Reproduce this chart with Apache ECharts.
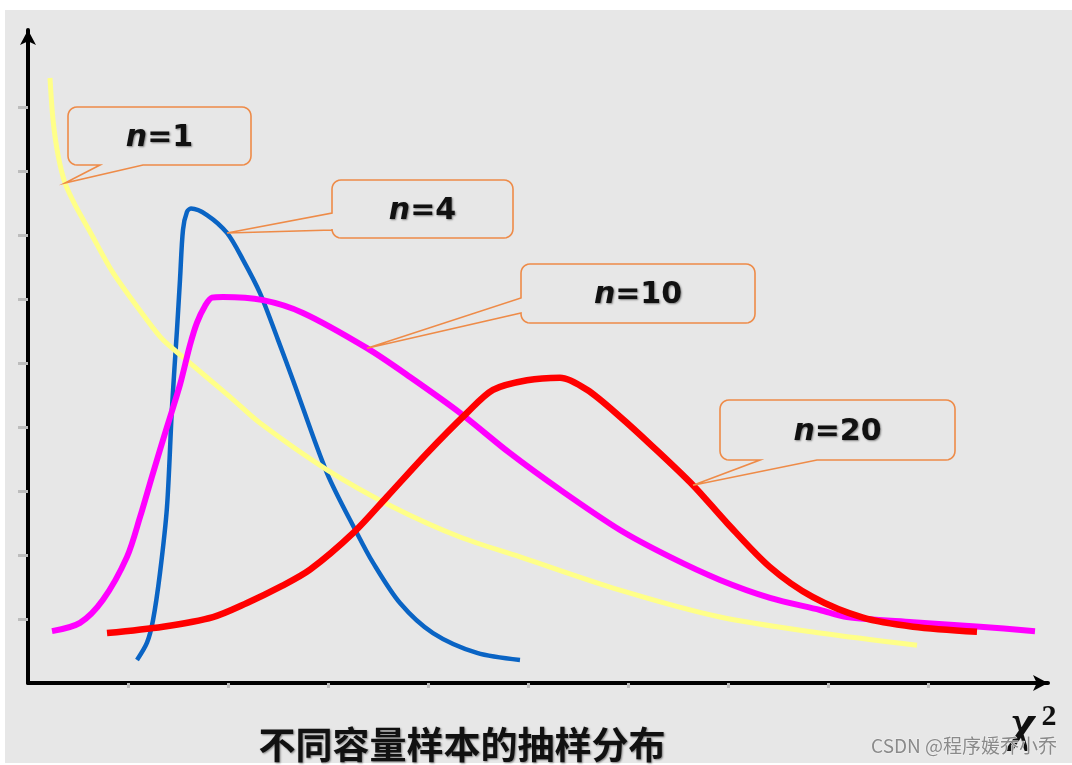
<!DOCTYPE html>
<html><head><meta charset="utf-8">
<script src="https://cdn.jsdelivr.net/npm/echarts@6/dist/echarts.min.js"></script>
<style>html,body{margin:0;padding:0;background:#fff}#c{width:1072px;height:765px}</style>
</head><body><div id="c"></div>
<script>
// ---- data (x in χ² units, y in density units) ----
const seriesNames = ['n=1', 'n=4', 'n=10', 'n=20'];
const n1 = [[0.22,9.45],[0.25,8.80],[0.30,8.25],[0.37,7.81],[0.48,7.44],[0.62,7.05],[0.85,6.41],[1.19,5.67],[1.35,5.36],[1.55,5.09],[2.02,4.47],[2.32,4.06],[2.99,3.33],[3.65,2.75],[4.32,2.28],[4.92,1.97],[5.92,1.45],[6.92,1.03],[7.92,0.78],[8.89,0.59]];
const n4 = [[1.09,0.36],[1.19,0.63],[1.25,0.98],[1.32,1.72],[1.39,2.75],[1.44,4.31],[1.49,5.52],[1.52,6.30],[1.55,7.08],[1.59,7.36],[1.63,7.41],[1.79,7.31],[1.99,7.03],[2.15,6.61],[2.32,6.09],[2.50,5.36],[2.65,4.73],[2.99,3.28],[3.29,2.34],[3.45,1.88],[3.72,1.25],[4.05,0.78],[4.49,0.47],[4.92,0.36]];
const n10 = [[0.24,0.81],[0.52,0.94],[0.75,1.30],[0.99,1.97],[1.12,2.59],[1.25,3.28],[1.39,4.00],[1.52,4.66],[1.62,5.28],[1.69,5.63],[1.77,5.89],[1.84,6.02],[1.95,6.03],[2.35,5.98],[2.75,5.78],[3.39,5.23],[3.82,4.78],[4.32,4.22],[4.82,3.59],[5.32,3.02],[5.92,2.39],[6.42,1.97],[6.92,1.61],[7.42,1.33],[7.92,1.14],[8.19,1.03],[8.85,0.95],[9.52,0.88],[10.07,0.81]];
const n20 = [[0.79,0.78],[1.35,0.88],[1.85,1.03],[2.19,1.25],[2.52,1.50],[2.82,1.77],[3.25,2.34],[3.59,2.91],[3.99,3.59],[4.39,4.22],[4.65,4.58],[4.99,4.73],[5.32,4.77],[5.59,4.58],[5.92,4.16],[6.25,3.69],[6.65,3.09],[6.99,2.50],[7.42,1.81],[7.85,1.34],[8.35,1.02],[8.85,0.88],[9.49,0.80]];
const xTicks = [1,2,3,4,5,6,7,8,9];
const yTicks = [1,2,3,4,5,6,7,8,9];
const titleText = '不同容量样本的抽样分布';
const watermarkText = 'CSDN @程序媛乔小乔';

// ---- chart ----
const chart = echarts.init(document.getElementById('c'), null, {renderer: 'canvas'});
const axisCommon = {
  type: 'value', min: 0, max: 10.2, interval: 1,
  axisLine: {show: true, lineStyle: {color: '#000', width: 4}, symbol: ['none', 'arrow'], symbolSize: [12, 15]},
  axisLabel: {show: false},
  splitLine: {show: false}
};
const mkLine = (name, data, color, width, z) => ({
  name, type: 'line', data, showSymbol: false, smooth: 0.3, z,
  lineStyle: {color, width, cap: 'butt', join: 'round'}, itemStyle: {color}
});
chart.setOption({
  backgroundColor: '#ffffff',
  animation: false,
  grid: {left: 28, right: 24, top: 30, bottom: 82},
  xAxis: Object.assign({}, axisCommon, {
    axisTick: {show: true, customValues: xTicks, length: 5, lineStyle: {color: '#bdbdbd', width: 3}}
  }),
  yAxis: Object.assign({}, axisCommon, {
    axisTick: {show: true, customValues: yTicks, length: 10, lineStyle: {color: '#bdbdbd', width: 3}}
  }),
  series: [
    mkLine(seriesNames[1], n4, '#0a64c4', 4.5, 2),
    mkLine(seriesNames[0], n1, '#ffff88', 5, 3),
    mkLine(seriesNames[2], n10, '#ff00ff', 6, 4),
    mkLine(seriesNames[3], n20, '#ff0000', 6.5, 5)
  ]
});

// ---- callouts (boxes in pixels, tips anchored on data points) ----
const callouts = [
  {text: '1', data: n1, idx: 3, box: [68, 107, 251, 165], side: 'bottom', a: 143, b: 100},
  {text: '4', data: n4, idx: 12, box: [332, 180, 513, 238], side: 'left', a: 230, b: 213},
  {text: '10', data: n10, idx: 15, box: [521, 264, 755, 323], side: 'left', a: 313, b: 298},
  {text: '20', data: n20, idx: 16, box: [720, 400, 955, 460], side: 'bottom', a: 817, b: 760}
];
function arc(pts, cx, cy, r, a0, a1) {
  const n = 6;
  for (let i = 0; i <= n; i++) {
    const t = a0 + (a1 - a0) * i / n;
    pts.push([cx + r * Math.cos(t), cy + r * Math.sin(t)]);
  }
}
function calloutPoints(c, tip) {
  const [x0, y0, x1, y1] = c.box, r = 9, P = Math.PI;
  const pts = [];
  arc(pts, x0 + r, y0 + r, r, P, 1.5 * P);
  arc(pts, x1 - r, y0 + r, r, 1.5 * P, 2 * P);
  arc(pts, x1 - r, y1 - r, r, 0, 0.5 * P);
  if (c.side === 'bottom') { pts.push([c.a, y1], [tip[0], tip[1]], [c.b, y1]); }
  arc(pts, x0 + r, y1 - r, r, 0.5 * P, P);
  if (c.side === 'left') { pts.push([x0, c.a], [tip[0], tip[1]], [x0, c.b]); }
  return pts;
}
const shadow = {textShadowColor: 'rgba(0,0,0,0.45)', textShadowBlur: 2, textShadowOffsetX: 1, textShadowOffsetY: 1};
const graphics = [
  {type: 'rect', z: -100, silent: true, shape: {x: 5, y: 10, width: 1067, height: 753}, style: {fill: '#e7e7e7'}}
];
callouts.forEach(c => {
  const tip = chart.convertToPixel({gridIndex: 0}, c.data[c.idx]);
  graphics.push({
    type: 'polygon', z: 50, silent: true,
    shape: {points: calloutPoints(c, tip)},
    style: {fill: 'rgba(0,0,0,0)', stroke: '#ee8b48', lineWidth: 1.6}
  });
  graphics.push({
    type: 'text', z: 51, silent: true,
    x: (c.box[0] + c.box[2]) / 2, y: (c.box[1] + c.box[3]) / 2 + 2,
    style: {
      text: '{i|n}{t|=' + c.text + '}', align: 'center', verticalAlign: 'middle',
      rich: {
        i: Object.assign({fontFamily: 'DejaVu Sans', fontStyle: 'italic', fontWeight: 'bold', fontSize: 30, fill: '#111'}, shadow),
        t: Object.assign({fontFamily: 'DejaVu Sans', fontWeight: 'bold', fontSize: 30, fill: '#111'}, shadow)
      }
    }
  });
});
graphics.push({
  type: 'text', z: 51, silent: true, x: 462, y: 745,
  style: Object.assign({text: titleText, align: 'center', verticalAlign: 'middle', fontFamily: 'Noto Sans CJK SC', fontWeight: 'bold', fontSize: 37, fill: '#111'}, shadow)
});
graphics.push({
  type: 'text', z: 51, silent: true, x: 1023, y: 727,
  style: {text: 'χ', align: 'center', verticalAlign: 'middle', fontFamily: 'Liberation Serif', fontStyle: 'italic', fontWeight: 'bold', fontSize: 52, fill: '#111'}
});
graphics.push({
  type: 'text', z: 51, silent: true, x: 1049, y: 717,
  style: {text: '2', align: 'center', verticalAlign: 'middle', fontFamily: 'Liberation Serif', fontWeight: 'bold', fontSize: 30, fill: '#111'}
});
graphics.push({
  type: 'text', z: 60, silent: true, x: 1057, y: 746,
  style: {text: watermarkText, align: 'right', verticalAlign: 'middle', fontFamily: 'Noto Sans CJK SC', fontSize: 19, fill: '#8a8a8a', stroke: '#f2f2f2', lineWidth: 1}
});
chart.setOption({graphic: graphics});
</script></body></html>
